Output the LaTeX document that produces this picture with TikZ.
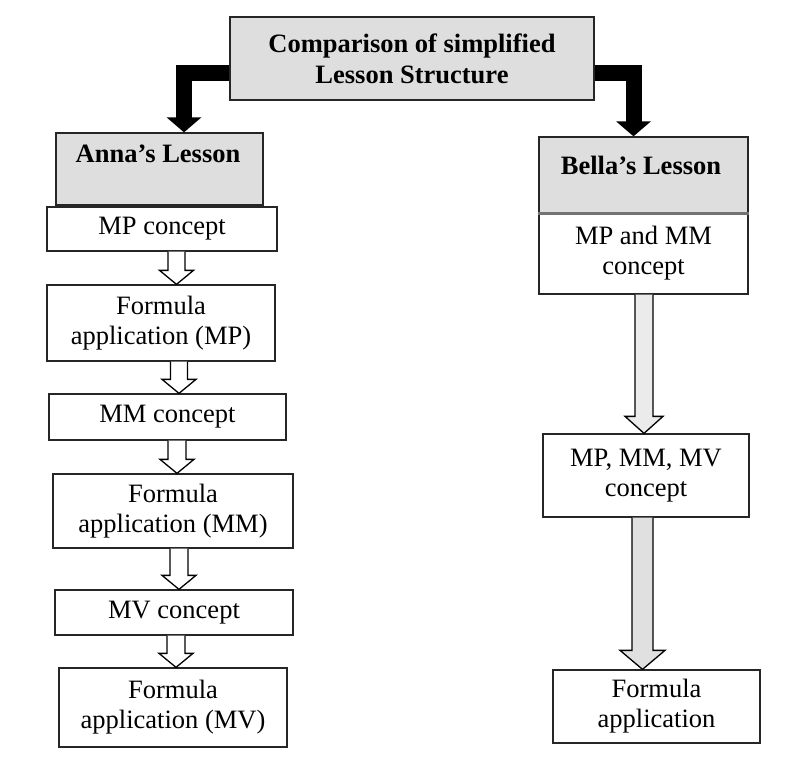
\documentclass[tikz,border=0pt]{standalone}
\usepackage{fontspec}
\setmainfont{Liberation Serif}
\usetikzlibrary{arrows.meta,calc}
\tikzset{
  box/.style={draw=black!85, line width=1.3pt, fill=white, align=center,
    inner sep=0pt, font=\fontsize{26.5}{30}\selectfont},
  headbox/.style={box, fill=black!13},
  headtext/.style={font=\fontsize{26.5}{31}\selectfont\bfseries, align=center, inner sep=0pt},
  bigarrow/.style={line width=16pt, -{Triangle[width=34pt,length=15pt]}, line join=miter},
}
% hollow block arrow: from node #1 (south) to node #2 (north) at x = #3,
% half shaft width #4, half head width #5, head length #6, fill #7
\newcommand\hollowarrow[7]{%
  \draw[line width=1.3pt, fill=#7, line join=miter] let \p1=(#1.south), \p2=(#2.north) in
    (#3-#4,\y1) -- (#3-#4,\y2+#6) -- (#3-#5,\y2+#6) -- (#3,\y2)
    -- (#3+#5,\y2+#6) -- (#3+#4,\y2+#6) -- (#3+#4,\y1);}
\begin{document}
\begin{tikzpicture}[x=1pt,y=1pt]
\useasboundingbox[fill=white] (0,0) rectangle (787,-756);

% title
\node[headbox, headtext, draw=black!85, line width=1.6pt, minimum width=364pt, minimum height=83pt]
  (top) at (412,-58.5) {Comparison of simplified\\Lesson Structure};

% Anna's column
\node[headbox, minimum width=207pt, minimum height=72pt] (anna) at (159.5,-169) {};
\node[headtext] (annatext) at (158,-153.5) {Anna’s Lesson};
\node[box, minimum width=230pt, minimum height=44pt] (a1) at (162,-229) {MP concept};
\node[box, minimum width=228pt, minimum height=76pt] (a2) at (161,-323) {Formula\\application (MP)};
\node[box, minimum width=237pt, minimum height=46pt] (a3) at (167.5,-417) {MM concept};
\node[box, minimum width=240pt, minimum height=74pt] (a4) at (173,-511) {Formula\\application (MM)};
\node[box, minimum width=238pt, minimum height=45pt] (a5) at (174,-612.5) {MV concept};
\node[box, minimum width=228pt, minimum height=79pt] (a6) at (173,-707.5) {Formula\\application (MV)};

% Bella's column
\node[headbox, minimum width=209pt, minimum height=76pt] (bella) at (643.5,-175) {};
\node[headtext] (bellatext) at (641,-165.5) {Bella’s Lesson};
\node[box, minimum width=209pt, minimum height=81pt] (b1) at (643.5,-253.5) {MP and MM\\concept};
\draw[line width=3pt, black!55] (bella.south west) -- (bella.south east);
\node[box, minimum width=206pt, minimum height=83pt] (b2) at (646,-475.5) {MP, MM, MV\\concept};
\node[box, minimum width=207pt, minimum height=73pt] (b3) at (656.5,-706.5) {Formula\\application};

% heavy arrows from the title
\draw[bigarrow] ([yshift=-14pt]top.west) -| ([xshift=24.5pt]anna.north);
\draw[bigarrow] ([yshift=-14pt]top.east) -| ([xshift=-10pt]bella.north);

% hollow step arrows, Anna
\hollowarrow{a1}{a2}{176.5}{8.5}{17}{14}{white}
\hollowarrow{a2}{a3}{179}{8.5}{17}{14}{white}
\hollowarrow{a3}{a4}{177}{9}{17}{14}{white}
\hollowarrow{a4}{a5}{179}{9}{17}{14}{white}
\hollowarrow{a5}{a6}{176}{9}{17}{14}{white}

% hollow step arrows, Bella
\hollowarrow{b1}{b2}{644}{9}{19}{17}{black!8}
\hollowarrow{b2}{b3}{642.5}{10.5}{22.5}{19}{black!12}
\end{tikzpicture}
\end{document}
